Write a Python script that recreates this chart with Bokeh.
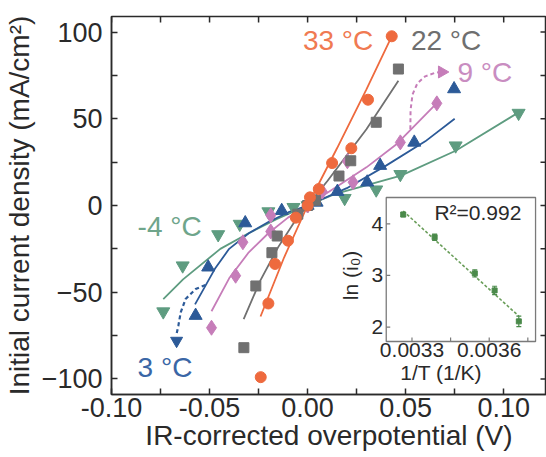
import math
import numpy as np
from bokeh.plotting import figure
from bokeh.models import Range1d, FixedTicker, NumeralTickFormatter
from bokeh.core.properties import value
from bokeh.embed import file_html
from bokeh.resources import INLINE

FONT = "Liberation Sans"

# ---------------- main panel: measured points (V, mA/cm2) ----------------
x33 = [-0.0239, -0.0200, -0.0166, -0.0100, -0.0060, 0.0000, 0.0012, 0.0057, 0.0125, 0.0223, 0.0308, 0.0429]
y33 = [-99.0, -56.5, -33.7, -20.3, -7.0, 0.0, 4.7, 9.5, 24.5, 33.0, 61.0, 97.6]
x22 = [-0.0325, -0.0264, -0.0182, -0.0155, -0.0050, 0.0000, 0.0040, 0.0160, 0.0220, 0.0350, 0.0463]
y22 = [-82.0, -46.4, -27.2, -17.6, -5.0, 0.0, 3.0, 17.0, 25.8, 48.0, 78.7]
x9 = [-0.0490, -0.0367, -0.0330, -0.0188, -0.0188, 0.0000, 0.0075, 0.0203, 0.0232, 0.0473, 0.0659]
y9 = [-70.5, -40.5, -21.2, -15.0, -5.7, 0.0, 8.0, 25.5, 13.4, 36.4, 58.9]
x3 = [-0.0571, -0.0507, -0.0318, -0.0132, 0.0000, 0.0046, 0.0152, 0.0304, 0.0370, 0.0544, 0.0747]
y3 = [-63.5, -35.6, -10.1, -3.0, 0.0, 1.8, 8.0, 13.4, 23.0, 36.4, 67.2]
xm4 = [-0.0736, -0.0637, -0.0456, -0.0346, -0.0200, -0.0072, 0.0000, 0.0189, 0.0350, 0.0473, 0.0755, 0.1076]
ym4 = [-61.2, -34.7, -16.7, -10.7, -3.5, -1.0, 0.0, 4.2, 9.1, 18.0, 34.5, 53.3]

# fitted curves
fx33 = [-0.0240, -0.0120, 0.0000, 0.0150, 0.0300, 0.0429]
fy33 = [-64.0, -30.0, 0.0, 33.0, 67.0, 97.6]
fx22 = [-0.0326, -0.0240, -0.0150, -0.0070, 0.0000, 0.0100, 0.0200, 0.0300, 0.0463]
fy22 = [-65.5, -43.0, -24.0, -10.0, 0.0, 14.0, 29.0, 44.0, 72.0]
fx9 = [-0.0490, -0.0400, -0.0300, -0.0200, -0.0100, 0.0000, 0.0150, 0.0300, 0.0450, 0.0659]
fy9 = [-61.0, -42.0, -27.0, -16.0, -7.0, 0.0, 11.0, 22.0, 35.0, 59.0]
fx3 = [-0.0574, -0.0470, -0.0400, -0.0300, -0.0200, -0.0100, 0.0000, 0.0200, 0.0400, 0.0600, 0.0750]
fy3 = [-57.0, -36.0, -25.0, -16.0, -9.5, -4.0, 0.0, 10.0, 23.0, 37.0, 50.0]
fxm4 = [-0.0736, -0.0635, -0.0445, -0.0308, -0.0156, 0.0000, 0.0138, 0.0476, 0.0755, 0.1076]
fym4 = [-54.0, -42.6, -25.0, -16.4, -7.8, 0.0, 6.6, 17.2, 31.6, 53.7]

series_labels = ["33 °C", "22 °C", "9 °C", "-4 °C", "3 °C"]
label_x = [0.0335, 0.0527, 0.0764, -0.0867, -0.0867]
label_y = [95.0, 95.0, 76.8, -12.1, -93.3]
label_align = ["right", "left", "left", "left", "left"]

# dashed guide arrows
pink_arrow_x = [0.0524, 0.0525, 0.0535, 0.0560, 0.0600, 0.0650, 0.0685]
pink_arrow_y = [44.0, 55.0, 64.0, 70.5, 74.5, 76.5, 77.0]
blue_arrow_x = [-0.0521, -0.0571, -0.0622, -0.0647, -0.0659, -0.0668]
blue_arrow_y = [-45.9, -48.2, -53.9, -61.6, -69.3, -74.0]

x_ticks = [-0.10, -0.05, 0.0, 0.05, 0.10]
x_minor = [-0.075, -0.025, 0.025, 0.075]
y_ticks = [-100, -50, 0, 50, 100]
y_minor = [-75, -25, 25, 75]

# ---------------- inset: Arrhenius plot ----------------
inv_T = [0.003266, 0.003388, 0.003544, 0.003621, 0.003715]
ln_i0 = [4.18, 3.74, 3.04, 2.71, 2.11]
ln_err = [0.04, 0.06, 0.07, 0.08, 0.10]
inset_xtick_marks = [0.0033, 0.00345, 0.0036, 0.00375]
inset_xtick_vals = [0.0033, 0.0036]
inset_xtick_text = ["0.0033", "0.0036"]
inset_ytick_vals = [2, 3, 4]
inset_ytick_text = ["2", "3", "4"]
r2_text = "R²=0.992"

C33, C22, C9, C3, CM4 = "#EE6A3E", "#707070", "#C67DB9", "#2C5A98", "#5E9C80"
LBL_COLORS = ["#F07A52", "#6F6F6F", "#C98DC1", "#6FA58B", "#3A66A6"]
INK = "#2a2a2a"

W, H = 546, 457
BL, BR, BT, BB = 109, 0, 16, 63
PX_PER_V = 1970.0
XR = (-0.10, -0.10 + (W - BL - BR) / PX_PER_V)
YR = (-109, 109)

p = figure(width=W, height=H, x_range=Range1d(*XR), y_range=Range1d(*YR),
           output_backend="svg", toolbar_location=None,
           min_border_left=BL, min_border_right=BR, min_border_top=BT, min_border_bottom=BB)
p.xgrid.visible = False
p.ygrid.visible = False
p.outline_line_color = INK
p.outline_line_width = 1.5
p.background_fill_color = "white"
p.border_fill_color = "white"

for ax in (p.xaxis[0], p.yaxis[0]):
    ax.axis_line_color = INK
    ax.axis_line_width = 1.5
    ax.major_tick_line_color = INK
    ax.minor_tick_line_color = INK
    ax.major_tick_line_width = 1.5
    ax.minor_tick_line_width = 1.5
    ax.major_tick_in = 6
    ax.major_tick_out = 0
    ax.minor_tick_in = 6
    ax.minor_tick_out = 0
    ax.major_label_text_font = FONT
    ax.major_label_text_font_size = "27px"
    ax.major_label_text_color = INK
    ax.axis_label_text_font = FONT
    ax.axis_label_text_font_size = "28px"
    ax.axis_label_text_font_style = "normal"
    ax.axis_label_text_color = INK

p.xaxis.ticker = FixedTicker(ticks=x_ticks, minor_ticks=x_minor)
p.xaxis.formatter = NumeralTickFormatter(format="0.00")
p.yaxis.ticker = FixedTicker(ticks=y_ticks, minor_ticks=y_minor)
p.xaxis.axis_label = "IR-corrected overpotential (V)"
p.yaxis.axis_label = "Initial current density (mA/cm²)"
p.xaxis.major_label_standoff = 3
p.xaxis.axis_label_standoff = 0
p.yaxis.major_label_standoff = 9
p.yaxis.axis_label_standoff = 4

# mirrored ticks on top and right edges
p.ray(x=x_ticks + x_minor, y=[YR[1]] * (len(x_ticks) + len(x_minor)), length=6,
      angle=-math.pi / 2, length_units="screen", line_color=INK, line_width=1.5)
p.ray(x=[XR[1]] * (len(y_ticks) + len(y_minor)), y=y_ticks + y_minor, length=6,
      angle=math.pi, length_units="screen", line_color=INK, line_width=1.5)

# fits
for fx, fy, c in [(fxm4, fym4, CM4), (fx3, fy3, C3), (fx9, fy9, C9), (fx22, fy22, C22), (fx33, fy33, C33)]:
    p.line(fx, fy, line_color=c, line_width=1.8)

# points
p.scatter(xm4, ym4, marker="inverted_triangle", size=13, fill_color=CM4, line_color=CM4)
p.scatter(x3, y3, marker="triangle", size=13, fill_color=C3, line_color=C3)
p.scatter(x9, y9, marker="diamond", size=15, fill_color=C9, line_color=C9)
p.scatter(x22, y22, marker="square", size=10, fill_color=C22, line_color=C22)
p.scatter(x33, y33, marker="circle", size=11, fill_color=C33, line_color=C33)

# dashed arrows
p.line(pink_arrow_x, pink_arrow_y, line_color=C9, line_width=2, line_dash="4 3")
p.scatter([pink_arrow_x[-1]], [pink_arrow_y[-1]], marker="triangle", angle=-math.pi / 2,
          size=12, fill_color=C9, line_color=C9)
p.line(blue_arrow_x, blue_arrow_y, line_color=C3, line_width=2.2, line_dash="4 3")
p.scatter([blue_arrow_x[-1]], [blue_arrow_y[-1] - 4], marker="inverted_triangle",
          size=12, fill_color=C3, line_color=C3)

# temperature labels
for t, lx, ly, al, col in zip(series_labels, label_x, label_y, label_align, LBL_COLORS):
    p.text(x=[lx], y=[ly], text=[t], text_color=col, text_font=value(FONT),
           text_font_size="28px", text_align=al, text_baseline="middle")

# ---------------- inset drawn on extra ranges ----------------
IN_L, IN_R, IN_T, IN_B = 385, 535, 197, 341   # inset box, page pixels
IX0, IX1, IY0, IY1 = 0.00320, 0.00378, 1.72, 4.51
fw, fh = W - BL - BR, H - BT - BB
fl, fr = (IN_L - BL) / fw, (IN_R - BL) / fw
fb, ft = (H - BB - IN_B) / fh, (H - BB - IN_T) / fh
sx = (IX1 - IX0) / (fr - fl)
sy = (IY1 - IY0) / (ft - fb)
p.extra_x_ranges = {"ix": Range1d(IX0 - fl * sx, IX0 - fl * sx + sx)}
p.extra_y_ranges = {"iy": Range1d(IY0 - fb * sy, IY0 - fb * sy + sy)}
kw = dict(x_range_name="ix", y_range_name="iy")

p.quad(left=[IX0], right=[IX1], bottom=[IY0], top=[IY1], fill_color="white",
       line_color="#7a7a7a", line_width=1.3, **kw)
p.ray(x=inset_xtick_marks, y=[IY0] * len(inset_xtick_marks), length=4, angle=math.pi / 2,
      length_units="screen", line_color="#7a7a7a", line_width=1.2, **kw)
p.ray(x=[IX0] * len(inset_ytick_vals), y=inset_ytick_vals, length=4, angle=0,
      length_units="screen", line_color="#7a7a7a", line_width=1.2, **kw)

coef = np.polyfit(inv_T, ln_i0, 1)
fit_x = [inv_T[0], inv_T[-1]]
p.line(fit_x, list(np.polyval(coef, fit_x)), line_color="#6a9e5a", line_width=1.6,
       line_dash="3 2", **kw)
lo = [v - e for v, e in zip(ln_i0, ln_err)]
hi = [v + e for v, e in zip(ln_i0, ln_err)]
p.segment(x0=inv_T, y0=lo, x1=inv_T, y1=hi, line_color="#4a8a4a", line_width=1.2, **kw)
p.scatter(inv_T + inv_T, lo + hi, marker="dash", size=5, line_color="#4a8a4a", line_width=1.2, **kw)
p.scatter(inv_T, ln_i0, marker="square", size=5, fill_color="#4a8a4a", line_color="#4a8a4a", **kw)

p.text(x=inset_xtick_vals, y=[IY0] * len(inset_xtick_vals), text=inset_xtick_text,
       text_font=value(FONT), text_font_size="21px", text_color=INK,
       text_align="center", text_baseline="top", y_offset=1, **kw)
p.text(x=[IX0] * len(inset_ytick_vals), y=inset_ytick_vals, text=inset_ytick_text,
       text_font=value(FONT), text_font_size="21px", text_color=INK,
       text_align="right", text_baseline="middle", x_offset=-3, **kw)
p.text(x=[IX0], y=[3.0], text=["ln (i₀)"], angle=math.pi / 2, text_font=value(FONT),
       text_font_size="21px", text_color=INK, text_align="center", text_baseline="middle",
       x_offset=-36, **kw)
p.text(x=[0.003413], y=[IY0], text=["1/T (1/K)"], text_font=value(FONT),
       text_font_size="21px", text_color=INK, text_align="center", text_baseline="middle",
       y_offset=31, **kw)
p.text(x=[0.003725], y=[4.224], text=[r2_text], text_font=value(FONT),
       text_font_size="21px", text_color=INK, text_align="right", text_baseline="middle", **kw)

open("out.html", "w").write(file_html(p, INLINE))
